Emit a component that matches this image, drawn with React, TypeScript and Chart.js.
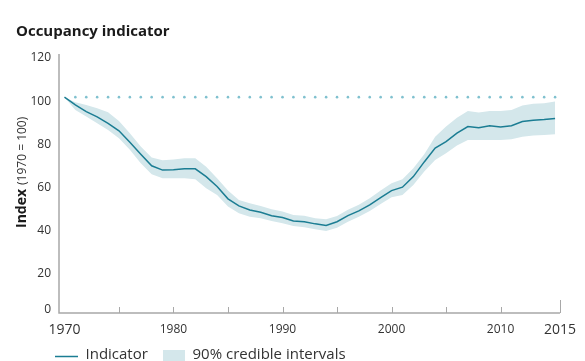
import React, { useEffect, useRef } from "react";
import { Chart, registerables } from "chart.js";

Chart.register(...registerables);

const YEARS = [
  1970, 1971, 1972, 1973, 1974, 1975, 1976, 1977, 1978, 1979,
  1980, 1981, 1982, 1983, 1984, 1985, 1986, 1987, 1988, 1989,
  1990, 1991, 1992, 1993, 1994, 1995, 1996, 1997, 1998, 1999,
  2000, 2001, 2002, 2003, 2004, 2005, 2006, 2007, 2008, 2009,
  2010, 2011, 2012, 2013, 2014, 2015,
];

const INDICATOR = [
  100, 96.4, 93.3, 90.9, 87.9, 84.4, 79.1, 73.6, 68.2, 66.2,
  66.4, 66.8, 66.8, 63.2, 58.6, 52.9, 49.6, 47.7, 46.7, 45.1,
  44.2, 42.6, 42.3, 41.3, 40.6, 42.3, 45.1, 47.3, 50.1, 53.5,
  56.7, 58.3, 63.2, 70.0, 76.4, 79.4, 83.3, 86.4, 85.8, 86.7,
  86.2, 86.8, 88.7, 89.3, 89.6, 90.1,
];

const UPPER = [
  100, 97.7, 96.4, 94.9, 93.0, 89.0, 83.3, 77.1, 72.0, 70.8,
  71.1, 71.7, 71.7, 67.8, 62.4, 56.7, 52.4, 50.9, 49.6, 48.1,
  47.0, 45.4, 45.1, 43.9, 43.4, 45.0, 47.8, 50.1, 53.2, 56.7,
  60.1, 62.0, 67.1, 73.6, 81.7, 86.4, 90.5, 93.6, 92.9, 93.6,
  93.6, 94.1, 96.1, 96.9, 97.2, 98.0,
];

const LOWER = [
  100, 94.1, 91.0, 87.9, 84.8, 81.0, 75.6, 69.4, 64.3, 62.4,
  62.4, 62.4, 62.0, 57.8, 54.7, 49.3, 46.2, 44.6, 43.9, 42.6,
  41.6, 40.3, 39.7, 38.8, 38.0, 39.5, 42.3, 44.6, 47.3, 50.5,
  53.6, 54.7, 59.3, 65.6, 70.9, 74.0, 77.6, 80.2, 80.2, 80.2,
  80.2, 80.5, 81.7, 82.2, 82.5, 82.8,
];

const BASELINE = 100;
const REF_YEARS = YEARS.slice(1);

const X_TICKS = [1970, 1975, 1980, 1985, 1990, 1995, 2000, 2005, 2010];
const X_END = 2015.45;
const X_END_LABEL = "2015";
const Y_TICKS = [0, 20, 40, 60, 80, 100, 120];

const TITLE = "Occupancy indicator";
const Y_TITLE_BOLD = "Index";
const Y_TITLE_REST = "(1970 = 100)";
const LEGEND_LINE = "Indicator";
const LEGEND_BAND = "90% credible intervals";

const LINE_COLOR = "#1b7d93";
const BAND_COLOR = "#d4e7eb";
const DOT_COLOR = "#80c1cf";
const AXIS_COLOR = "#a8a8a8";
const TEXT_COLOR = "#333333";
const FONT = "'Open Sans', 'Noto Sans', sans-serif";

const decorPlugin = {
  id: "decor",
  afterDraw(chart: any) {
    const { ctx, chartArea, scales } = chart;
    const xs = scales.x;
    const ys = scales.y;
    ctx.save();
    // axes
    ctx.strokeStyle = AXIS_COLOR;
    ctx.lineWidth = 1.5;
    ctx.beginPath();
    ctx.moveTo(chartArea.left, chartArea.top);
    ctx.lineTo(chartArea.left, chartArea.bottom);
    ctx.lineTo(chartArea.right, chartArea.bottom);
    ctx.stroke();
    ctx.lineWidth = 1;
    ctx.beginPath();
    X_TICKS.slice(1).forEach((v) => {
      const px = Math.round(xs.getPixelForValue(v)) + 0.5;
      ctx.moveTo(px, chartArea.bottom);
      ctx.lineTo(px, chartArea.bottom - 6);
    });
    const ex = Math.round(xs.getPixelForValue(X_END)) + 0.5;
    ctx.moveTo(ex, chartArea.bottom);
    ctx.lineTo(ex, chartArea.bottom - 13);
    ctx.stroke();

    // zero label
    ctx.fillStyle = TEXT_COLOR;
    ctx.font = `12px ${FONT}`;
    ctx.textAlign = "right";
    ctx.textBaseline = "middle";
    ctx.fillText("0", chartArea.left - 8, ys.getPixelForValue(0) - 3);

    // title
    ctx.fillStyle = "#1a1a1a";
    ctx.font = `bold 15px ${FONT}`;
    ctx.textAlign = "left";
    ctx.textBaseline = "middle";
    ctx.fillText(TITLE, 16, 31.5);

    // y title
    ctx.save();
    ctx.translate(22, 228);
    ctx.rotate(-Math.PI / 2);
    ctx.textAlign = "left";
    ctx.textBaseline = "middle";
    ctx.font = `bold 14px ${FONT}`;
    ctx.fillStyle = "#1a1a1a";
    ctx.fillText(Y_TITLE_BOLD, 0, 0);
    const w = ctx.measureText(Y_TITLE_BOLD).width;
    ctx.font = `12px ${FONT}`;
    ctx.fillStyle = TEXT_COLOR;
    ctx.fillText(Y_TITLE_REST, w + 4, 0.5);
    ctx.restore();

    // legend
    ctx.strokeStyle = LINE_COLOR;
    ctx.lineWidth = 1.5;
    ctx.beginPath();
    ctx.moveTo(55, 356.5);
    ctx.lineTo(78, 356.5);
    ctx.stroke();
    ctx.fillStyle = TEXT_COLOR;
    ctx.font = `15px ${FONT}`;
    ctx.textAlign = "left";
    ctx.textBaseline = "middle";
    ctx.fillText(LEGEND_LINE, 85.5, 354.5);
    ctx.fillStyle = BAND_COLOR;
    ctx.fillRect(163, 350, 22, 12);
    ctx.fillStyle = TEXT_COLOR;
    ctx.fillText(LEGEND_BAND, 192.5, 354.5);
    ctx.restore();
  },
};

export default function App() {
  const ref = useRef<HTMLCanvasElement>(null);
  useEffect(() => {
    if (!ref.current) return;
    const pts = (arr: number[]) => YEARS.map((x, i) => ({ x, y: arr[i] }));
    const chart = new Chart(ref.current, {
      type: "line",
      data: {
        datasets: [
          {
            label: "upper",
            data: pts(UPPER),
            borderWidth: 0,
            borderColor: "rgba(0,0,0,0)",
            backgroundColor: BAND_COLOR,
            pointRadius: 0,
            fill: "+1",
            order: 3,
          },
          {
            label: "lower",
            data: pts(LOWER),
            borderWidth: 0,
            borderColor: "rgba(0,0,0,0)",
            backgroundColor: BAND_COLOR,
            pointRadius: 0,
            fill: false,
            order: 3,
          },
          {
            label: "ref",
            data: REF_YEARS.map((x) => ({ x, y: BASELINE })),
            showLine: false,
            pointRadius: 1.3,
            pointBorderWidth: 0,
            pointBackgroundColor: DOT_COLOR,
            fill: false,
            order: 2,
          },
          {
            label: "Indicator",
            data: pts(INDICATOR),
            borderColor: LINE_COLOR,
            borderWidth: 1.5,
            pointRadius: 0,
            fill: false,
            tension: 0,
            order: 1,
          },
        ],
      },
      options: {
        animation: false,
        responsive: false,
        devicePixelRatio: 1,
        layout: { padding: { top: 54, right: 24, left: 0, bottom: 0 } },
        plugins: {
          legend: { display: false },
          title: { display: false },
          tooltip: { enabled: false },
        },
        scales: {
          x: {
            type: "linear",
            min: 1969.5,
            max: X_END,
            grid: { display: false, drawTicks: false },
            border: { display: false },
            afterBuildTicks: (scale: any) => {
              scale.ticks = [...X_TICKS, X_END].map((v) => ({ value: v }));
            },
            afterFit: (scale: any) => {
              scale.height = 48;
            },
            ticks: {
              autoSkip: false,
              maxRotation: 0,
              padding: 9,
              color: TEXT_COLOR,
              font: (c: any) => {
                const v = c.tick ? c.tick.value : 0;
                const big = v === 1970 || v === X_END;
                return { family: FONT, size: big ? 14 : 12 };
              },
              callback: (v: any) => {
                if (v === X_END) return X_END_LABEL;
                return v % 10 === 0 ? String(v) : "";
              },
            },
          },
          y: {
            type: "linear",
            min: 0,
            max: 120,
            grid: { display: false, drawTicks: false },
            border: { display: false },
            afterBuildTicks: (scale: any) => {
              scale.ticks = Y_TICKS.map((v) => ({ value: v }));
            },
            afterFit: (scale: any) => {
              scale.width = 59;
            },
            ticks: {
              padding: 8,
              labelOffset: 4,
              color: TEXT_COLOR,
              font: { family: FONT, size: 12 },
              callback: (v: any) => (v === 0 ? "" : String(v)),
            },
          },
        },
      },
      plugins: [decorPlugin],
    });
    return () => chart.destroy();
  }, []);
  return (
    <div style={{ position: "absolute", left: 0, top: 0, width: 585, height: 361, background: "#fff" }}>
      <canvas ref={ref} width={585} height={361} style={{ display: "block" }} />
    </div>
  );
}
